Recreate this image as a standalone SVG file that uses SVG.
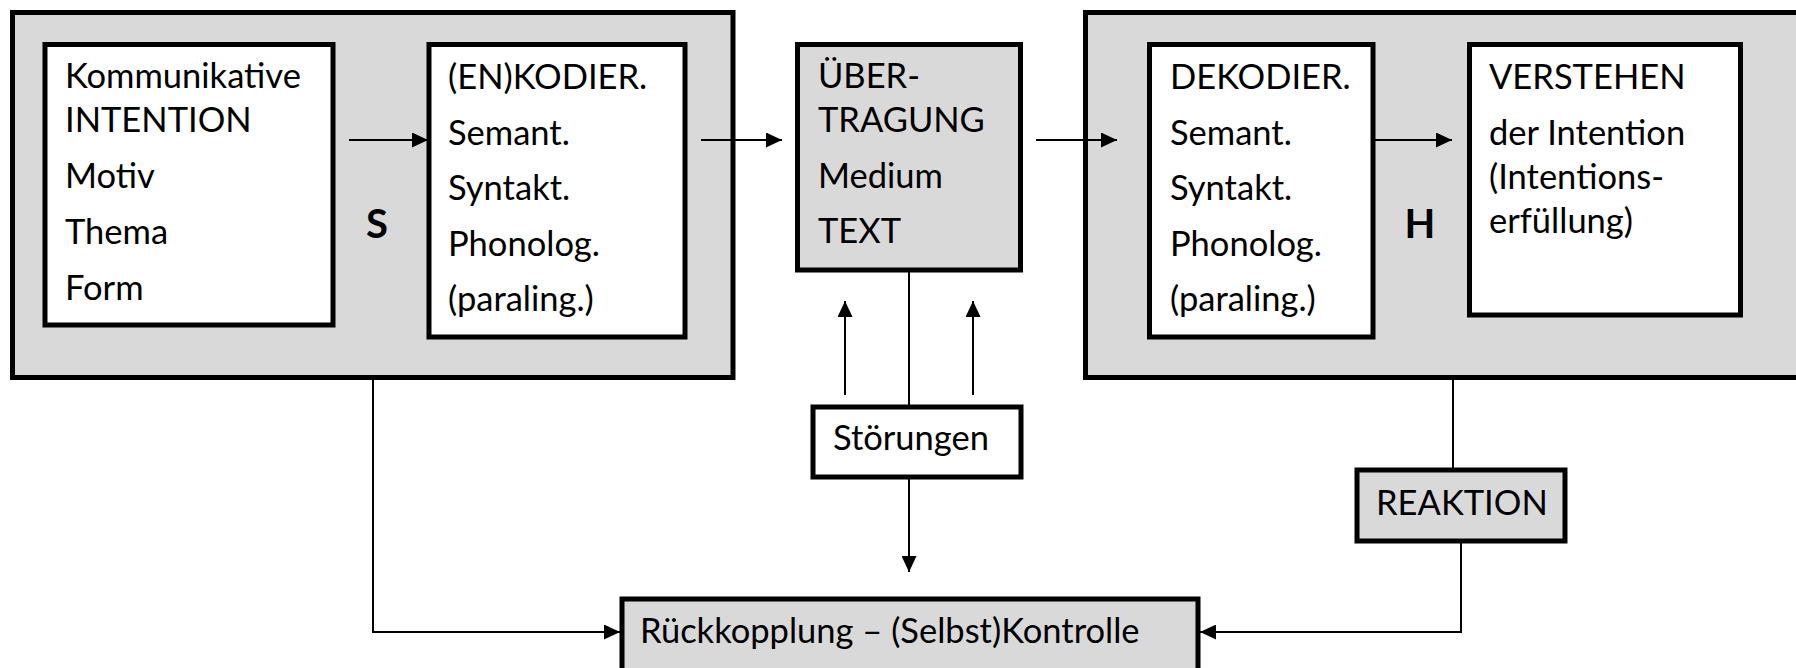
<svg xmlns="http://www.w3.org/2000/svg" width="1796" height="668" viewBox="0 0 1796 668">
<style>
.box{stroke:#000;stroke-width:5;}
.grey{fill:#d9d9d9;}
.white{fill:#fff;}
text{font-family:Lato,"Liberation Sans",sans-serif;font-size:34.5px;fill:#000;}
.b{font-weight:bold;font-size:40px;}
.ln{stroke:#000;stroke-width:2;fill:none;}
</style>
<defs>
<marker id="ah" viewBox="0 0 16 15" refX="16" refY="7.5" markerWidth="16" markerHeight="15" markerUnits="userSpaceOnUse" orient="auto">
<path d="M0,0 L16,7.5 L0,15 Z" fill="#000"/>
</marker>
</defs>
<rect width="1796" height="668" fill="#fff"/>
<g id="sender">
<rect class="box grey" x="12.5" y="12.5" width="720.5" height="365"/>
<text class="b" x="377" y="238" text-anchor="middle">S</text>
</g>
<g id="intention">
<rect class="box white" x="45" y="44.5" width="288" height="280.5"/>
<text x="65" y="88">Kommunikative</text>
<text x="65" y="132">INTENTION</text>
<text x="65" y="188">Motiv</text>
<text x="65" y="244">Thema</text>
<text x="65" y="300">Form</text>
</g>
<g id="enkodier">
<rect class="box white" x="429" y="44.5" width="256" height="292.5"/>
<text x="448" y="89">(EN)KODIER.</text>
<text x="448" y="145">Semant.</text>
<text x="448" y="200">Syntakt.</text>
<text x="448" y="256">Phonolog.</text>
<text x="448" y="311">(paraling.)</text>
</g>
<g id="uebertragung">
<rect class="box grey" x="797.5" y="44.5" width="223" height="225.5"/>
<text x="818" y="88">ÜBER-</text>
<text x="818" y="132">TRAGUNG</text>
<text x="818" y="188">Medium</text>
<text x="818" y="243">TEXT</text>
</g>
<g id="hoerer">
<rect class="box grey" x="1085.5" y="12.5" width="800" height="365"/>
<text class="b" x="1420" y="238" text-anchor="middle">H</text>
</g>
<g id="dekodier">
<rect class="box white" x="1149.5" y="44.5" width="223.5" height="292.5"/>
<text x="1170" y="89">DEKODIER.</text>
<text x="1170" y="145">Semant.</text>
<text x="1170" y="200">Syntakt.</text>
<text x="1170" y="256">Phonolog.</text>
<text x="1170" y="311">(paraling.)</text>
</g>
<g id="verstehen">
<rect class="box white" x="1469.5" y="44.5" width="271" height="270.5"/>
<text x="1489" y="89">VERSTEHEN</text>
<text x="1489" y="145">der Intention</text>
<text x="1489" y="189">(Intentions-</text>
<text x="1489" y="233">erfüllung)</text>
</g>
<g id="stoerungen">
<rect class="box white" x="813" y="407" width="208" height="70"/>
<text x="833" y="450">Störungen</text>
</g>
<g id="reaktion">
<rect class="box grey" x="1357" y="470" width="208" height="71"/>
<text x="1376" y="515">REAKTION</text>
</g>
<g id="rueckkopplung">
<rect class="box grey" x="622" y="599" width="576" height="90"/>
<text x="640" y="643">Rückkopplung – (Selbst)Kontrolle</text>
</g>
<g id="connectors">
<line class="ln" x1="349" y1="140" x2="428" y2="140" marker-end="url(#ah)"/>
<line class="ln" x1="701" y1="140" x2="782" y2="140" marker-end="url(#ah)"/>
<line class="ln" x1="1036" y1="140" x2="1117" y2="140" marker-end="url(#ah)"/>
<line class="ln" x1="1374" y1="140" x2="1452" y2="140" marker-end="url(#ah)"/>
<line class="ln" x1="909" y1="270" x2="909" y2="405"/>
<line class="ln" x1="845" y1="395" x2="845" y2="301" marker-end="url(#ah)"/>
<line class="ln" x1="973" y1="395" x2="973" y2="301" marker-end="url(#ah)"/>
<line class="ln" x1="909" y1="478" x2="909" y2="572" marker-end="url(#ah)"/>
<polyline class="ln" points="373,378 373,632 620,632" marker-end="url(#ah)"/>
<line class="ln" x1="1453" y1="378" x2="1453" y2="469"/>
<polyline class="ln" points="1461,542 1461,632 1200,632" marker-end="url(#ah)"/>
</g>
</svg>
